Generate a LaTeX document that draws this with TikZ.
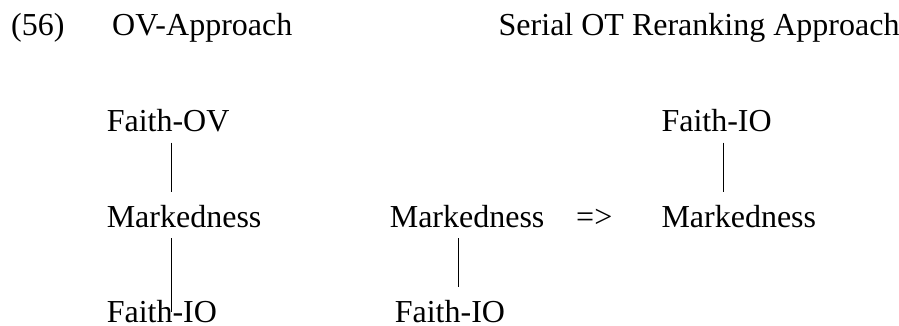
\documentclass[tikz,border=0pt]{standalone}
\usepackage{fontspec}
\setmainfont{Liberation Serif}
\begin{document}
\begin{tikzpicture}[x=1pt,y=1pt,
  lbl/.style={anchor=base west,inner sep=0pt,font=\fontsize{32}{38}\selectfont},
  rank/.style={line width=1.4pt}]
\useasboundingbox (0,0) rectangle (899,-325);
\node[lbl] (num) at (11,-35.2) {(56)};
\node[lbl] (ovh) at (112,-35.2) {OV-Approach};
\node[lbl] (serh) at (498.5,-35.2) {Serial OT Reranking Approach};
% OV approach
\node[lbl] (fov) at (106.6,-131.2) {Faith-OV};
\node[lbl] (mk1) at (106.6,-227) {Markedness};
\node[lbl] (fio1) at (106.6,-322) {Faith-IO};
% serial, before
\node[lbl] (mk2) at (389.6,-227) {Markedness};
\node[lbl] (fio2) at (394.6,-322) {Faith-IO};
\node[lbl] (arr) at (576,-227) {=>};
% serial, after
\node[lbl] (fio3) at (661.3,-131.2) {Faith-IO};
\node[lbl] (mk3) at (661.3,-227) {Markedness};
% rankings
\draw[rank] ([shift={(64.9,-11.5)}]fov.base west) -- ([shift={(64.9,34.7)}]mk1.base west);
\draw[rank] ([shift={(64.9,-11)}]mk1.base west) -- ([shift={(64.9,10.3)}]fio1.base west);
\draw[rank] ([shift={(68.9,-11)}]mk2.base west) -- ([shift={(63.9,35)}]fio2.base west);
\draw[rank] ([shift={(62.2,-11.5)}]fio3.base west) -- ([shift={(62.2,34.7)}]mk3.base west);
\end{tikzpicture}
\end{document}
